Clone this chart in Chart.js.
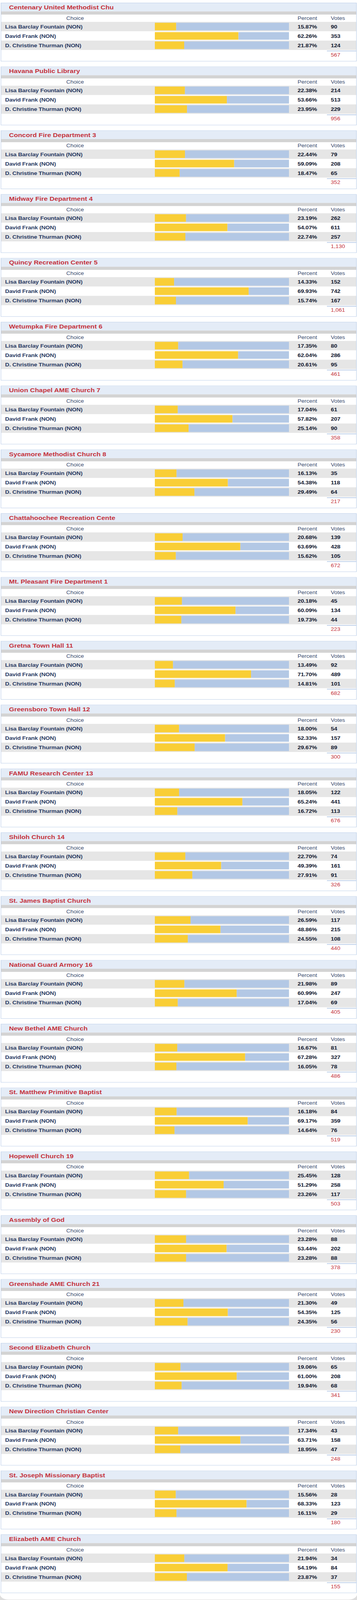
<!DOCTYPE html>
<html>
<head>
<meta charset="utf-8">
<title>Precinct results</title>
<script src="https://cdn.jsdelivr.net/npm/chart.js@4.4.1/dist/chart.umd.min.js"></script>
<style>
  html, body { margin: 0; overflow: hidden; background: #dedede; font-family: "Liberation Sans", Arial, sans-serif; }
  #frame { position: relative; width: 913px; height: 4096px; overflow: hidden; }
  /* page is laid out at 4613px tall, then fitted into the 4096px window */
  #page { position: absolute; left: 0; top: 0; width: 913px; height: 4612px; background: #fff;
          border-radius: 0 0 22px 22px / 0 0 16px 16px; transform-origin: 0 0; }
  .panel { position: absolute; left: 2px; width: 910px; height: 169px; box-sizing: border-box; border: 1px solid #b7cbe7; background: #fff; }
  .title { position: absolute; left: 0; right: 0; top: 0; height: 24px; background: #e4ecf7; }
  .title span { position: absolute; left: 20px; top: 0; line-height: 25px; font-size: 17.3px; font-weight: bold; color: #c4323c; white-space: nowrap; }
  .strip { position: absolute; left: 0; right: 0; top: 24px; height: 9px; background: #d3d3d3; }
  .head { position: absolute; left: 0; right: 0; top: 33px; height: 21px; line-height: 21px; font-size: 14.5px; color: #3a4b6e; }
  .head span, .row span { position: absolute; white-space: nowrap; }
  .row { position: absolute; left: 0; right: 0; height: 27px; line-height: 27px; font-size: 15px; font-weight: bold; letter-spacing: -0.2px; }
  .row.alt { background: #e6e6e6; }
  .name { left: 10px; color: #2a3b63; }
  .pct { left: 758px; color: #171d33; }
  .votes { left: 843px; color: #171d33; }
  .tline { position: absolute; left: 833px; right: 0; top: 137px; height: 1.5px; background: #b7cbe7; }
  .total { position: absolute; left: 843px; top: 138px; height: 22px; line-height: 22px; font-size: 14.5px; color: #c4323c; }
  .bars { position: absolute; left: 393px; top: 54px; width: 343px; height: 81px; }
</style>
</head>
<body>
<div id="frame"><div id="page"></div></div>
<script>
const precincts = [
  'Centenary United Methodist Chu', 'Havana Public Library', 'Concord Fire Department 3',
  'Midway Fire Department 4', 'Quincy Recreation Center 5', 'Wetumpka Fire Department 6',
  'Union Chapel AME Church 7', 'Sycamore Methodist Church 8', 'Chattahoochee Recreation Cente',
  'Mt. Pleasant Fire Department 1', 'Gretna Town Hall 11', 'Greensboro Town Hall 12',
  'FAMU Research Center 13', 'Shiloh Church 14', 'St. James Baptist Church',
  'National Guard Armory 16', 'New Bethel AME Church', 'St. Matthew Primitive Baptist',
  'Hopewell Church 19', 'Assembly of God', 'Greenshade AME Church 21',
  'Second Elizabeth Church', 'New Direction Christian Center', 'St. Joseph Missionary Baptist',
  'Elizabeth AME Church'
];

const candidates = ['Lisa Barclay Fountain (NON)', 'David Frank (NON)', 'D. Christine Thurman (NON)'];

const fountainPct = [15.87, 22.38, 22.44, 23.19, 14.33, 17.35, 17.04, 16.13, 20.68, 20.18, 13.49, 18.00, 18.05, 22.70, 26.59, 21.98, 16.67, 16.18, 25.45, 23.28, 21.30, 19.06, 17.34, 15.56, 21.94];
const frankPct    = [62.26, 53.66, 59.09, 54.07, 69.93, 62.04, 57.82, 54.38, 63.69, 60.09, 71.70, 52.33, 65.24, 49.39, 48.86, 60.99, 67.28, 69.17, 51.29, 53.44, 54.35, 61.00, 63.71, 68.33, 54.19];
const thurmanPct  = [21.87, 23.95, 18.47, 22.74, 15.74, 20.61, 25.14, 29.49, 15.62, 19.73, 14.81, 29.67, 16.72, 27.91, 24.55, 17.04, 16.05, 14.64, 23.26, 23.28, 24.35, 19.94, 18.95, 16.11, 23.87];

const fountainVotes = [90, 214, 79, 262, 152, 80, 61, 35, 139, 45, 92, 54, 122, 74, 117, 89, 81, 84, 128, 88, 49, 65, 43, 28, 34];
const frankVotes    = [353, 513, 208, 611, 742, 286, 207, 118, 428, 134, 489, 157, 441, 161, 215, 247, 327, 359, 258, 202, 125, 208, 158, 123, 84];
const thurmanVotes  = [124, 229, 65, 257, 167, 95, 90, 64, 105, 44, 101, 89, 113, 91, 108, 69, 78, 76, 117, 88, 56, 68, 47, 29, 37];
const totalVotes    = [567, 956, 352, 1130, 1061, 461, 358, 217, 672, 223, 682, 300, 676, 326, 440, 405, 486, 519, 503, 378, 230, 341, 248, 180, 155];

const YELLOW = '#f9ce36';
const TRACK = '#b3c8e5';

const page = document.getElementById('page');
// the window is shorter than the original page, squeeze it vertically to fit
page.style.transform = 'scaleY(' + (window.innerHeight / 4613) + ')';

precincts.forEach((place, i) => {
  const pcts = [fountainPct[i], frankPct[i], thurmanPct[i]];
  const votes = [fountainVotes[i], frankVotes[i], thurmanVotes[i]];

  const panel = document.createElement('div');
  panel.className = 'panel';
  panel.style.top = (8 + 184 * i) + 'px';

  let html = `
    <div class="title"><span>${place}</span></div>
    <div class="strip"></div>
    <div class="head">
      <span style="left:189px;transform:translateX(-50%)">Choice</span>
      <span style="left:758px">Percent</span>
      <span style="left:843px">Votes</span>
    </div>`;
  candidates.forEach((c, r) => {
    html += `
    <div class="row${r % 2 === 0 ? ' alt' : ''}" style="top:${54 + 27 * r}px">
      <span class="name">${c}</span>
      <span class="pct">${pcts[r].toFixed(2)}%</span>
      <span class="votes">${votes[r]}</span>
    </div>`;
  });
  html += `
    <div class="bars"><canvas id="bars${i}"></canvas></div>
    <div class="tline"></div>
    <div class="total">${totalVotes[i].toLocaleString('en-US')}</div>`;
  panel.innerHTML = html;
  page.appendChild(panel);

  new Chart(document.getElementById('bars' + i), {
    type: 'bar',
    data: {
      labels: candidates,
      datasets: [{
        label: 'Percent',
        data: pcts,
        backgroundColor: YELLOW,
        borderWidth: 0
      }, {
        label: 'Rest',
        data: pcts.map(p => 100 - p),
        backgroundColor: TRACK,
        borderWidth: 0
      }]
    },
    options: {
      indexAxis: 'y',
      responsive: true,
      maintainAspectRatio: false,
      animation: false,
      events: [],
      layout: { padding: 0 },
      datasets: { bar: { categoryPercentage: 1, barPercentage: 22 / 27 } },
      scales: {
        x: { stacked: true, min: 0, max: 100, display: false },
        y: { stacked: true, display: false }
      },
      plugins: {
        legend: { display: false },
        tooltip: { enabled: false }
      }
    }
  });
});
</script>
</body>
</html>
